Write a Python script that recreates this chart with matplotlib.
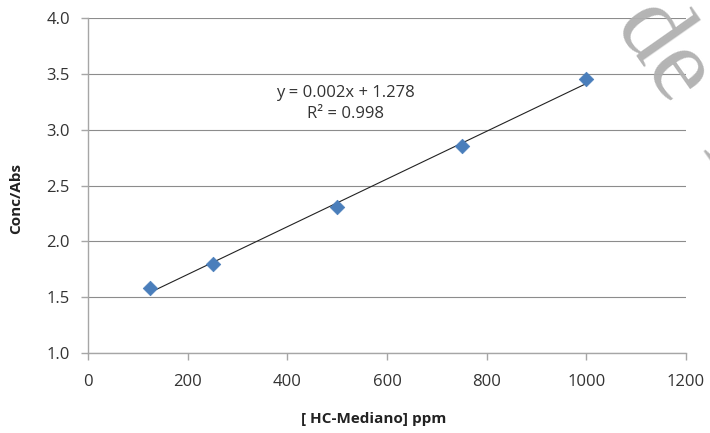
import numpy as np
import matplotlib
matplotlib.use("Agg")
import matplotlib.pyplot as plt

# Calibration data
conc_ppm = [125, 250, 500, 750, 1000]
conc_abs = [1.58, 1.80, 2.31, 2.85, 3.45]
x_ticks = [0, 200, 400, 600, 800, 1000, 1200]
y_ticks = [1.0, 1.5, 2.0, 2.5, 3.0, 3.5, 4.0]
equation_text = "y = 0.002x + 1.278\nR² = 0.998"

plt.rcParams['font.family'] = ['Open Sans', 'DejaVu Sans']

fig = plt.figure(figsize=(7.10, 4.33), dpi=100)
ax = fig.add_axes([88 / 710, 1 - 353 / 433, (686 - 88) / 710, (353 - 18) / 433])

grid_col = "#8c8c8c"
axis_col = "#a6a6a6"

# Linear trend line over the data range
coef = np.polyfit(conc_ppm, conc_abs, 1)
xs = np.array([min(conc_ppm), max(conc_ppm)])
ax.plot(xs, np.polyval(coef, xs), color="#222222", lw=0.8, zorder=3)

ax.scatter(conc_ppm, conc_abs, marker="D", s=55, color="#4a7ebb",
           edgecolors="#4a7ebb", linewidths=0.5, zorder=4)

ax.set_xlim(0, 1200)
ax.set_ylim(1.0, 4.0)
ax.set_xticks(x_ticks)
ax.set_yticks(y_ticks)
ax.set_xticklabels([str(v) for v in x_ticks])
ax.set_yticklabels([f"{v:.1f}" for v in y_ticks])

ax.yaxis.grid(True, color=grid_col, lw=0.8)
ax.set_axisbelow(True)
for s in ("top", "right"):
    ax.spines[s].set_visible(False)
for s in ("left", "bottom"):
    ax.spines[s].set_color(axis_col)
    ax.spines[s].set_linewidth(1.0)
ax.tick_params(axis="both", colors=axis_col, length=5, width=1.0,
               labelcolor="#333333", labelsize=12)
ax.tick_params(axis="x", pad=10)
ax.tick_params(axis="y", pad=8)

ax.set_xlabel("[ HC-Mediano] ppm", fontsize=11, fontweight="bold",
              color="#222222")
ax.set_ylabel("Conc/Abs", fontsize=11, fontweight="bold",
              color="#222222")
ax.xaxis.set_label_coords(0.478, -0.175)
ax.yaxis.set_label_coords(-0.108, 0.46)

ax.text(0.43, 0.745, equation_text, transform=ax.transAxes, ha="center",
        va="center", fontsize=12, color="#333333", linespacing=1.4)

# Watermark
fig.text(614 / 710, 1 - 24 / 433, "de  m", fontsize=76, rotation=-55,
         family="Liberation Serif", color="#b0b0b0", alpha=0.95,
         ha="left", va="baseline", rotation_mode="anchor",
         transform=fig.transFigure)

fig.savefig("out.png", dpi=100)
